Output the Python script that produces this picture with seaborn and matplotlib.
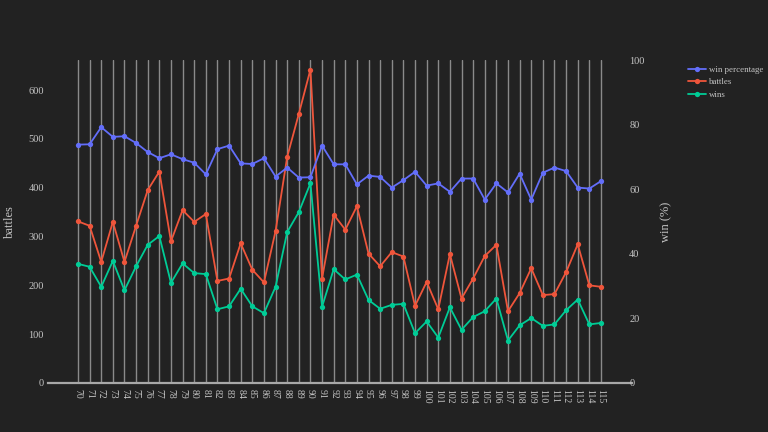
import matplotlib
matplotlib.use("Agg")
import matplotlib.pyplot as plt
import seaborn as sns
import pandas as pd
import numpy as np

categories = list(range(70, 116))
battles = [331, 322, 248, 330, 248, 322, 395, 433, 290, 354, 330, 346, 209, 214, 286, 232,
           206, 311, 463, 551, 642, 214, 345, 314, 362, 265, 239, 268, 259, 158, 207, 151,
           264, 173, 214, 260, 283, 147, 184, 235, 180, 182, 227, 284, 200, 197]
wins = [244, 238, 197, 250, 190, 239, 283, 301, 205, 245, 225, 223, 151, 157, 193, 157,
        143, 197, 309, 350, 409, 156, 233, 212, 222, 170, 152, 160, 162, 102, 126, 93,
        155, 109, 135, 147, 173, 87, 118, 133, 117, 120, 149, 171, 120, 123]
win_pct = [73.8, 73.9, 79.2, 76.2, 76.4, 74.3, 71.5, 69.6, 70.8, 69.3, 68.2, 64.6, 72.4, 73.5,
           68.0, 67.8, 69.6, 63.9, 66.7, 63.6, 63.7, 73.5, 67.7, 67.7, 61.5, 64.2, 63.8, 60.5,
           62.8, 65.4, 61.1, 61.8, 59.2, 63.3, 63.3, 56.8, 61.8, 59.0, 64.8, 56.8, 65.1, 66.7,
           65.6, 60.5, 60.2, 62.5]

df = pd.DataFrame({"x": categories, "battles": battles, "wins": wins, "win_pct": win_pct})

sns.set_theme(style="dark")
plt.rcParams["font.family"] = ["Liberation Serif", "DejaVu Serif"]

BG = "#222222"
TXT = "#c4c4c4"
C_BLUE = "#636efa"
C_RED = "#ef553b"
C_GREEN = "#00cc96"

fig = plt.figure(figsize=(7.68, 4.32), dpi=100, facecolor=BG)
ax = fig.add_axes([48/768, 1-383/432, (632-48)/768, (383-60)/432])
ax.set_facecolor(BG)
ax2 = ax.twinx()

for c in categories:
    ax.axvline(c, color="#8a8a8a", lw=1.0, zorder=0)

lw = 1.3
ms = 3.8
sns.lineplot(data=df, x="x", y="wins", ax=ax, color=C_GREEN, marker="o", markersize=ms,
             markeredgewidth=0, lw=lw, label="wins", legend=False)
sns.lineplot(data=df, x="x", y="battles", ax=ax, color=C_RED, marker="o", markersize=ms,
             markeredgewidth=0, lw=lw, label="battles", legend=False)
sns.lineplot(data=df, x="x", y="win_pct", ax=ax2, color=C_BLUE, marker="o", markersize=ms,
             markeredgewidth=0, lw=lw, label="win percentage", legend=False)

ax.set_xlim(67.42, 117.67)
ax.set_ylim(0, 661.5)
ax2.set_ylim(0, 100)

ax.set_xticks(categories)
ax.set_xticklabels([str(c) for c in categories], rotation=-90, fontsize=7, color=TXT)
ax.set_yticks(range(0, 700, 100))
ax.set_yticklabels([str(v) for v in range(0, 700, 100)], fontsize=7.5, color=TXT)
ax2.set_yticks(range(0, 101, 20))
ax2.set_yticklabels([str(v) for v in range(0, 101, 20)], fontsize=7.5, color=TXT)

ax.tick_params(axis="both", length=0, pad=3)
ax2.tick_params(axis="y", length=0, pad=-2)
ax.tick_params(axis="x", pad=4)

ax.set_xlabel("")
ax.set_ylabel("battles", color=TXT, fontsize=9)
ax2.set_ylabel("win (%)", color=TXT, fontsize=9)
ax.yaxis.set_label_coords((16-48)/584, 0.5)
ax2.yaxis.set_label_coords((660-48)/584, 0.5)

for a in (ax, ax2):
    for s in ("top", "left", "right", "bottom"):
        a.spines[s].set_visible(False)
ax.spines["bottom"].set_visible(True)
ax.spines["bottom"].set_color("#a8a8a8")
ax.spines["bottom"].set_linewidth(1.6)
ax.grid(False)
ax2.grid(False)

h1, l1 = ax2.get_legend_handles_labels()
h2, l2 = ax.get_legend_handles_labels()
handles = h1 + h2[::-1]
labels = l1 + l2[::-1]
fig.legend(handles, labels, loc="upper left", bbox_to_anchor=(684/768, 1-62/432),
           frameon=False, fontsize=6.4, labelcolor=TXT, handlelength=2.05,
           handletextpad=0.35, labelspacing=0.5, borderaxespad=0)

fig.savefig("out.png", dpi=100, facecolor=BG)
